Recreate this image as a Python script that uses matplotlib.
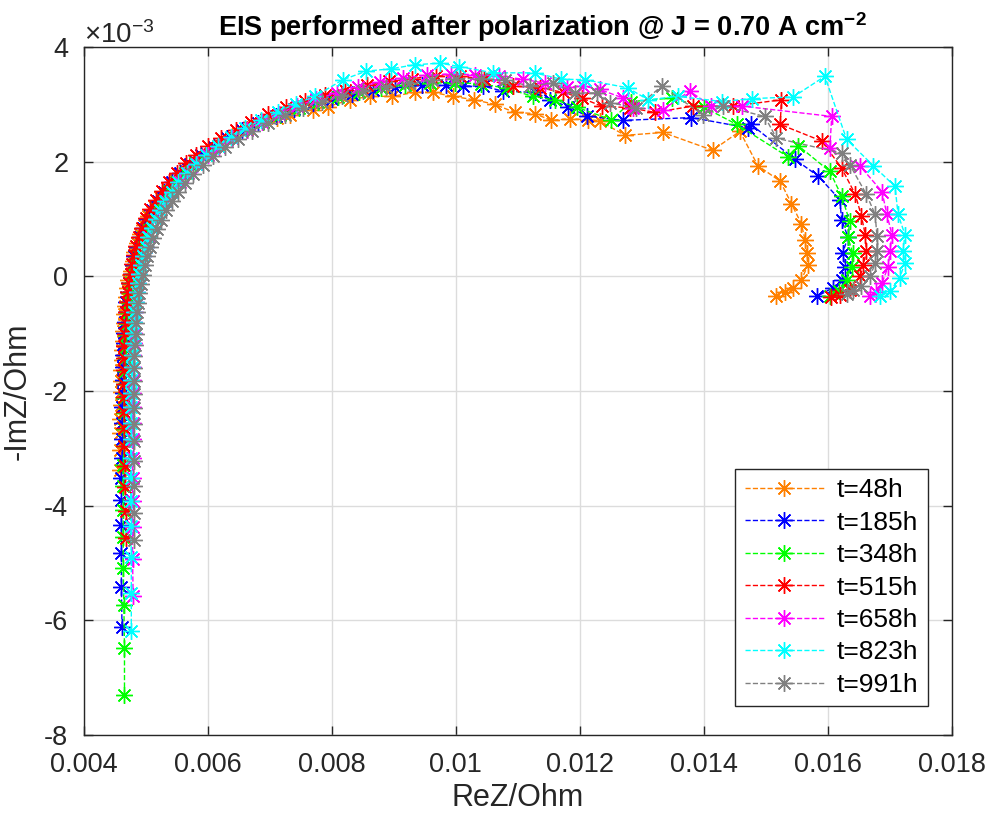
import numpy as np
import matplotlib
matplotlib.use('Agg')
import matplotlib.pyplot as plt
from matplotlib.ticker import ScalarFormatter, FuncFormatter, MultipleLocator

plt.rcParams['font.family'] = ['Liberation Sans', 'DejaVu Sans']
plt.rcParams['mathtext.fontset'] = 'custom'
plt.rcParams['mathtext.rm'] = 'Liberation Sans'
plt.rcParams['mathtext.bf'] = 'Liberation Sans:bold'
plt.rcParams['axes.unicode_minus'] = False

# ReZ and -ImZ in mOhm
labels = ['t=48h', 't=185h', 't=348h', 't=515h', 't=658h', 't=823h', 't=991h']
colors = ['#FF8000', '#0000FF', '#00FF00', '#FF0000', '#FF00FF', '#00FFFF', '#808080']

re_48 = [4.58, 4.58, 4.59, 4.59, 4.60, 4.60, 4.61, 4.61, 4.62, 4.62, 4.63, 4.64, 4.65, 4.66, 4.67, 4.68, 4.70, 4.72,
         4.76, 4.79, 4.82, 4.86, 4.91, 4.97, 5.04, 5.13, 5.23, 5.35, 5.48, 5.63, 5.80, 5.98, 6.18, 6.40, 6.64, 6.90, 7.12, 7.32,
         7.70, 7.94, 8.29, 8.61, 8.98, 9.34, 9.63, 9.95, 10.30, 10.63, 10.95, 11.27, 11.54, 11.84, 12.13, 12.32, 12.73, 13.34, 14.14, 14.58,
         14.87, 15.23, 15.41, 15.57, 15.63, 15.66, 15.68, 15.57, 15.44, 15.31, 15.17]
im_48 = [-3.37, -3.03, -2.74, -2.48, -2.24, -2.02, -1.82, -1.63, -1.45, -1.28, -1.12, -0.96, -0.81, -0.66, -0.51, -0.36, -0.21, -0.06,
         0.10, 0.26, 0.42, 0.58, 0.74, 0.90, 1.06, 1.22, 1.38, 1.54, 1.70, 1.86, 2.01, 2.16, 2.30, 2.44, 2.57, 2.69, 2.76, 2.82,
         2.91, 2.96, 3.08, 3.14, 3.14, 3.21, 3.21, 3.14, 3.08, 3.00, 2.86, 2.84, 2.72, 2.75, 2.73, 2.71, 2.46, 2.51, 2.20, 2.53,
         1.93, 1.66, 1.27, 0.92, 0.64, 0.41, 0.20, -0.06, -0.20, -0.28, -0.35]

re_185 = [4.62, 4.61, 4.61, 4.61, 4.61, 4.61, 4.62, 4.62, 4.62, 4.62, 4.63, 4.63, 4.64, 4.64, 4.65, 4.66, 4.67, 4.68, 4.69, 4.71, 4.73,
          4.76, 4.79, 4.82, 4.86, 4.91, 4.96, 5.03, 5.11, 5.20, 5.30, 5.42, 5.56, 5.72, 5.90, 6.10, 6.32, 6.56, 6.82, 7.10, 7.40,
          7.70, 8.00, 8.32, 8.66, 9.02, 9.45, 9.85, 10.11, 10.44, 10.76, 11.27, 11.52, 11.81, 12.11, 12.69, 13.80, 14.71, 14.76,
          15.47, 15.84, 16.19, 16.22, 16.32, 16.24, 16.27, 16.22, 16.08, 15.82]
im_185 = [-6.11, -5.41, -4.83, -4.33, -3.90, -3.51, -3.16, -2.84, -2.55, -2.28, -2.03, -1.80, -1.58, -1.37, -1.17, -0.98, -0.80, -0.62, -0.45, -0.28, -0.12,
          0.04, 0.20, 0.36, 0.52, 0.68, 0.84, 1.00, 1.16, 1.32, 1.48, 1.64, 1.80, 1.96, 2.11, 2.26, 2.41, 2.55, 2.68, 2.80, 2.92,
          3.02, 3.10, 3.18, 3.25, 3.30, 3.33, 3.33, 3.32, 3.32, 3.23, 3.21, 3.08, 2.96, 2.80, 2.72, 2.77, 2.59, 2.65,
          2.04, 1.75, 1.34, 0.99, 0.69, 0.41, 0.17, -0.06, -0.20, -0.35]

re_348 = [4.66, 4.66, 4.65, 4.64, 4.64, 4.64, 4.64, 4.64, 4.65, 4.65, 4.65, 4.66, 4.66, 4.67, 4.67, 4.68, 4.69, 4.70, 4.71, 4.73, 4.75, 4.77,
          4.80, 4.83, 4.87, 4.91, 4.96, 5.02, 5.09, 5.17, 5.26, 5.37, 5.49, 5.63, 5.79, 5.97, 6.17, 6.39, 6.63, 6.89, 7.17, 7.47,
          7.78, 8.10, 8.44, 8.80, 9.18, 9.58, 9.98, 10.40, 10.82, 11.24, 11.60, 11.95, 12.51, 12.83, 13.48, 14.00, 14.53,
          15.35, 15.52, 16.03, 16.22, 16.35, 16.32, 16.40, 16.38, 16.30, 16.18, 16.03]
im_348 = [-7.30, -6.48, -5.73, -5.09, -4.55, -4.08, -3.66, -3.29, -2.96, -2.66, -2.38, -2.12, -1.88, -1.65, -1.43, -1.22, -1.02, -0.83, -0.64, -0.46, -0.29, -0.12,
          0.05, 0.21, 0.37, 0.53, 0.69, 0.85, 1.01, 1.17, 1.33, 1.49, 1.65, 1.81, 1.97, 2.12, 2.27, 2.42, 2.56, 2.69, 2.82, 2.94,
          3.04, 3.13, 3.21, 3.28, 3.33, 3.37, 3.38, 3.36, 3.28, 3.14, 3.08, 2.95, 2.73, 3.05, 3.11, 2.95, 2.65,
          2.09, 2.28, 1.83, 1.40, 0.96, 0.68, 0.41, 0.17, -0.06, -0.26, -0.35]

re_515 = [4.69, 4.68, 4.67, 4.67, 4.66, 4.66, 4.66, 4.66, 4.66, 4.66, 4.66, 4.66, 4.67, 4.68, 4.69, 4.70, 4.72, 4.74,
          4.76, 4.78, 4.81, 4.85, 4.89, 4.94, 5.00, 5.07, 5.16, 5.26, 5.37, 5.50, 5.65, 5.82, 6.01, 6.22, 6.45, 6.70, 6.97, 7.26,
          7.57, 7.89, 8.22, 8.57, 8.93, 9.30, 9.68, 10.07, 10.46, 10.92, 11.35, 11.73, 12.03, 12.35, 12.81, 13.21, 13.82, 14.47, 15.25, 15.23,
          15.90, 16.22, 16.44, 16.54, 16.60, 16.62, 16.57, 16.52, 16.35, 16.19, 16.05]
im_515 = [-4.57, -4.10, -3.68, -3.30, -2.96, -2.65, -2.37, -2.11, -1.87, -1.64, -1.42, -1.21, -1.01, -0.82, -0.63, -0.45, -0.28, -0.11,
          0.05, 0.21, 0.37, 0.53, 0.69, 0.85, 1.01, 1.17, 1.33, 1.49, 1.65, 1.81, 1.97, 2.12, 2.27, 2.42, 2.56, 2.70, 2.83, 2.95,
          3.06, 3.16, 3.25, 3.33, 3.40, 3.45, 3.50, 3.49, 3.44, 3.32, 3.29, 3.21, 3.11, 2.97, 2.94, 2.86, 2.97, 2.97, 3.08, 2.65,
          2.36, 1.89, 1.43, 1.05, 0.73, 0.44, 0.20, 0.00, -0.23, -0.32, -0.36]

re_658 = [4.80, 4.79, 4.79, 4.79, 4.79, 4.79, 4.79, 4.79, 4.79, 4.79, 4.80, 4.80, 4.80, 4.81, 4.81, 4.82, 4.83, 4.84, 4.86, 4.88,
          4.90, 4.93, 4.96, 5.00, 5.05, 5.10, 5.17, 5.24, 5.33, 5.43, 5.55, 5.68, 5.83, 6.00, 6.19, 6.40, 6.63, 6.88, 7.15, 7.44,
          7.75, 8.08, 8.42, 8.78, 9.15, 9.53, 9.92, 10.31, 10.70, 11.08, 11.44, 11.80, 12.05, 12.32, 12.70, 12.86, 13.34, 13.77, 14.12, 14.61,
          16.06, 16.03, 16.52, 16.87, 16.95, 17.03, 17.00, 16.97, 16.87, 16.78, 16.68]
im_658 = [-5.58, -4.93, -4.38, -3.92, -3.52, -3.16, -2.84, -2.55, -2.28, -2.03, -1.80, -1.58, -1.37, -1.17, -0.98, -0.80, -0.62, -0.45, -0.28, -0.12,
          0.04, 0.20, 0.36, 0.52, 0.68, 0.84, 1.00, 1.16, 1.32, 1.48, 1.64, 1.80, 1.96, 2.11, 2.26, 2.41, 2.56, 2.70, 2.84, 2.97,
          3.09, 3.20, 3.30, 3.39, 3.46, 3.51, 3.53, 3.52, 3.49, 3.44, 3.37, 3.30, 3.32, 3.26, 3.11, 2.94, 2.91, 3.23, 2.97, 2.97,
          2.79, 2.24, 1.92, 1.48, 1.08, 0.73, 0.44, 0.17, -0.12, -0.28, -0.35]

re_823 = [4.77, 4.77, 4.77, 4.76, 4.76, 4.76, 4.76, 4.76, 4.76, 4.77, 4.77, 4.77, 4.78, 4.78, 4.79, 4.80, 4.81, 4.82, 4.84, 4.86, 4.88,
          4.90, 4.93, 4.96, 5.00, 5.04, 5.10, 5.16, 5.23, 5.32, 5.42, 5.53, 5.66, 5.81, 5.98, 6.17, 6.38, 6.61, 6.86, 7.13, 7.42,
          7.73, 8.18, 8.56, 8.95, 9.34, 9.74, 10.06, 10.60, 11.27, 11.70, 12.08, 12.77, 13.10, 13.58, 14.29, 14.77, 15.44, 15.95,
          16.30, 16.73, 17.08, 17.13, 17.24, 17.21, 17.24, 17.16, 17.00, 16.84]
im_823 = [-6.19, -5.53, -4.89, -4.36, -3.92, -3.52, -3.16, -2.84, -2.55, -2.28, -2.03, -1.80, -1.58, -1.37, -1.17, -0.98, -0.80, -0.62, -0.45, -0.28, -0.12,
          0.04, 0.20, 0.36, 0.52, 0.68, 0.84, 1.00, 1.16, 1.32, 1.48, 1.64, 1.80, 1.96, 2.12, 2.28, 2.43, 2.58, 2.73, 2.87, 3.01,
          3.14, 3.43, 3.58, 3.62, 3.69, 3.72, 3.66, 3.55, 3.55, 3.44, 3.43, 3.29, 3.08, 3.14, 3.05, 3.10, 3.13, 3.49,
          2.39, 1.93, 1.57, 1.08, 0.73, 0.44, 0.24, -0.02, -0.26, -0.35]

re_991 = [4.82, 4.82, 4.81, 4.81, 4.81, 4.81, 4.81, 4.81, 4.81, 4.82, 4.82, 4.83, 4.84, 4.85, 4.86, 4.88, 4.90, 4.93,
          4.96, 4.99, 5.03, 5.07, 5.12, 5.18, 5.25, 5.33, 5.42, 5.52, 5.64, 5.77, 5.92, 6.09, 6.28, 6.49, 6.72, 6.97, 7.24, 7.53,
          7.84, 8.17, 8.51, 8.87, 9.24, 9.62, 10.01, 10.40, 10.79, 11.20, 11.57, 11.92, 12.27, 12.48, 12.91, 13.32, 13.98, 14.31, 14.98,
          15.17, 16.22, 16.35, 16.62, 16.76, 16.79, 16.79, 16.76, 16.68, 16.54, 16.40, 16.30]
im_991 = [-4.60, -4.12, -3.66, -3.22, -2.87, -2.57, -2.30, -2.05, -1.82, -1.60, -1.39, -1.19, -1.00, -0.81, -0.63, -0.46, -0.29, -0.13,
          0.03, 0.19, 0.35, 0.51, 0.67, 0.83, 0.99, 1.15, 1.31, 1.47, 1.63, 1.79, 1.95, 2.10, 2.25, 2.40, 2.54, 2.68, 2.81, 2.93,
          3.04, 3.14, 3.23, 3.31, 3.37, 3.42, 3.45, 3.45, 3.42, 3.32, 3.37, 3.20, 3.20, 3.03, 2.94, 3.32, 2.82, 2.97, 2.79,
          2.41, 2.15, 1.95, 1.43, 1.08, 0.70, 0.44, 0.23, 0.00, -0.17, -0.23, -0.30]

series_re = [re_48, re_185, re_348, re_515, re_658, re_823, re_991]
series_im = [im_48, im_185, im_348, im_515, im_658, im_823, im_991]


class MatlabFormatter(ScalarFormatter):
    # plain hyphen labels like MATLAB, keeps the x10^-3 offset text
    def __call__(self, x, pos=None):
        return '%g' % round(x / 10 ** self.orderOfMagnitude, 6)


fig = plt.figure(figsize=(9.91, 8.21), dpi=100)
ax = fig.add_axes([0.0843, 0.1047, 0.8764, 0.838])

for re, im, c, lab in zip(series_re, series_im, colors, labels):
    ax.plot(np.array(re) * 1e-3, np.array(im) * 1e-3, linestyle='--', color=c, lw=1.0,
            marker=(8, 2, 0), markersize=12, markeredgewidth=1.0, label=lab)

ax.set_xlim(0.004, 0.018)
ax.set_ylim(-8e-3, 4e-3)
ax.xaxis.set_major_locator(MultipleLocator(0.002))
ax.xaxis.set_major_formatter(FuncFormatter(lambda v, p: '%g' % round(v, 6)))
ax.yaxis.set_major_locator(MultipleLocator(0.002))
yf = MatlabFormatter(useMathText=True)
yf.set_powerlimits((-3, -3))
ax.yaxis.set_major_formatter(yf)

ax.grid(True, color='#dcdcdc', lw=1.0)
ax.set_axisbelow(True)
for s in ax.spines.values():
    s.set_color('#262626')
    s.set_linewidth(1.0)
ax.tick_params(direction='in', length=6.5, width=1.0, colors='#262626', labelsize=19.5)
ax.tick_params(axis='x', pad=12)
ax.tick_params(axis='y', pad=11)
ax.tick_params(top=True, right=True)
ax.yaxis.get_offset_text().set_fontsize(20)
ax.yaxis.get_offset_text().set_color('#262626')

ax.set_xlabel('ReZ/Ohm', fontsize=22, color='#262626', labelpad=4)
ax.set_ylabel('-ImZ/Ohm', fontsize=22, color='#262626', labelpad=8)
ax.set_title(r'EIS performed after polarization @ J = 0.70 A cm$^{\mathbf{-2}}$',
             fontsize=19.5, fontweight='bold', x=0.528, pad=8)

leg = ax.legend(loc='lower right', bbox_to_anchor=(0.972, 0.042), fontsize=19,
                handlelength=3.0, fancybox=False, framealpha=1, edgecolor='#262626',
                borderpad=0.35, labelspacing=0.32, handletextpad=0.5, borderaxespad=0)
leg.get_frame().set_linewidth(1.0)

fig.savefig('out.png', dpi=100)
